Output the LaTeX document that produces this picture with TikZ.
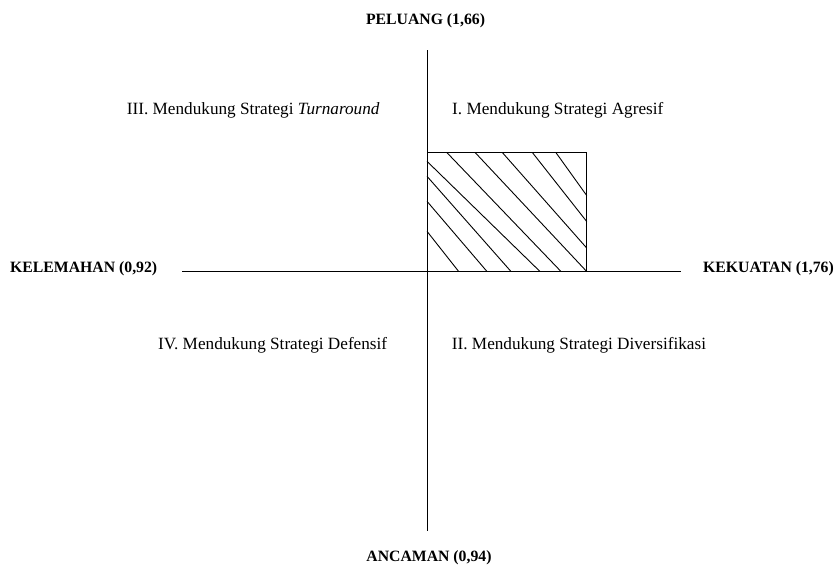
\documentclass[tikz,border=0pt]{standalone}
\usepackage{fontspec}
\setmainfont{Liberation Serif}
\begin{document}
\begin{tikzpicture}[x=1pt,y=-1pt,
  axislabel/.style={font=\bfseries\fontsize{15.75}{18}\selectfont, inner sep=0pt},
  quadlabel/.style={font=\fontsize{17.2}{20}\selectfont, inner sep=0pt},
  axisline/.style={line width=1pt},
  hatch/.style={line width=0.9pt}]
\useasboundingbox (0,0) rectangle (838,570);
% axes
\coordinate (vt) at (427,50);
\coordinate (vb) at (427,531);
\coordinate (hl) at (182,271.5);
\coordinate (hr) at (681,271.5);
\draw[axisline] (vt) -- (vb);
\draw[axisline] (hl) -- (hr);
% hatched box
\coordinate (bl) at (427,271.5);
\coordinate (tr) at (586.7,152.7);
\draw[hatch] (bl) rectangle (tr);
\draw[hatch] (427,231.3) -- (458.7,271.5);
\draw[hatch] (427,201.3) -- (487,271.5);
\draw[hatch] (427,176.3) -- (511,271.5);
\draw[hatch] (427,161.3) -- (540,271.5);
\draw[hatch] (447,152.7) -- (561,271.5);
\draw[hatch] (475.3,152.7) -- (586.7,271.5);
\draw[hatch] (502.5,152.7) -- (586.7,248);
\draw[hatch] (532.5,152.7) -- (586.7,221.5);
\draw[hatch] (556,152.7) -- (586.7,195.5);
% axis labels
\node[axislabel, anchor=base] (peluang) at (425.5,24.5) {PELUANG (1,66)};
\node[axislabel, anchor=base] (ancaman) at (429,561) {ANCAMAN (0,94)};
\node[axislabel, anchor=base west] (kelemahan) at (10,272.5) {KELEMAHAN (0,92)};
\node[axislabel, anchor=base west] (kekuatan) at (703,272.5) {KEKUATAN (1,76)};
% quadrant labels
\node[quadlabel, anchor=base west] (q3) at (126.7,114) {III. Mendukung Strategi \textit{Turnaround}};
\node[quadlabel, anchor=base west] (q1) at (452,114) {I. Mendukung Strategi Agresif};
\node[quadlabel, anchor=base west] (q4) at (158,349) {IV. Mendukung Strategi Defensif};
\node[quadlabel, anchor=base west] (q2) at (451.7,349) {II. Mendukung Strategi Diversifikasi};
\end{tikzpicture}
\end{document}
